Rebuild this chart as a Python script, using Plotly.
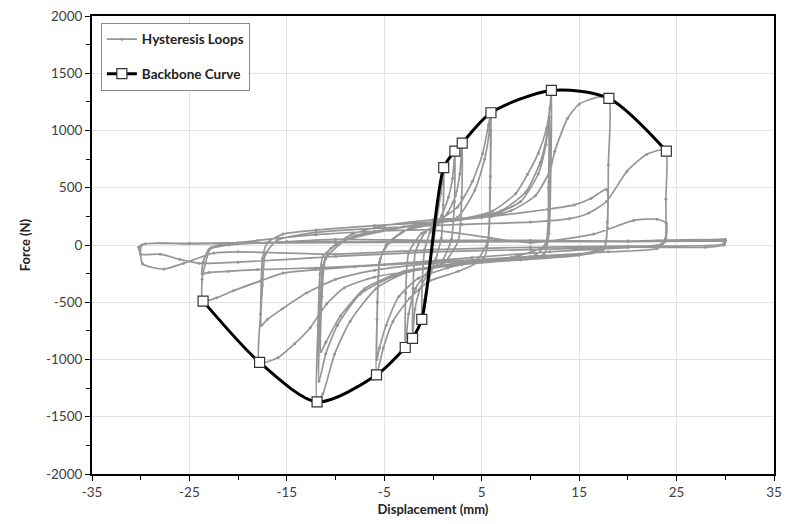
import plotly.graph_objects as go

# ---------------- Backbone curve ----------------
backbone_x = [-23.6, -17.8, -11.9, -5.8, -2.85, -2.1, -1.15, 1.1, 2.25, 3.0, 5.95, 12.15, 18.05, 23.95]
backbone_f = [-490, -1025, -1370, -1135, -895, -815, -650, 675, 820, 890, 1155, 1350, 1280, 820]

# ---------------- Hysteresis loops (cycle by cycle) ----------------
c1_x = [0, 0.4, 0.8, 1.1, 1.05, 0.85, 0.3, -0.4, -0.9, -1.15, -1.1, -0.85, -0.3, 0.2]
c1_f = [0, 230, 450, 675, 350, 60, -120, -300, -480, -650, -320, -40, 110, 160]

c2_x = [0.9, 1.6, 2.0, 2.25, 2.2, 1.9, 1.0, -0.3, -1.3, -1.85, -2.1, -2.05, -1.8, -0.8, 0.5]
c2_f = [260, 420, 580, 820, 380, 50, -130, -220, -380, -560, -815, -380, -60, 110, 190]

c3_x = [1.5, 2.3, 2.75, 3.0, 2.95, 2.6, 1.2, -0.5, -1.8, -2.5, -2.85, -2.8, -2.5, -1.2, 0.5]
c3_f = [280, 430, 620, 890, 420, 40, -150, -230, -380, -600, -895, -420, -70, 100, 180]

c4_x = [0.6, 2.5, 4.05, 5.1, 5.7, 5.95, 5.9, 5.7, 5.2, 2.6, -0.4, -2.4, -4.1, -5.1, -5.8, -5.75, -5.5, -4.8, -3.05, 0.0]
c4_f = [210, 330, 556, 800, 1050, 1155, 600, 50, -120, -230, -317, -465, -665, -900, -1135, -650, -150, 0, 120, 180]

c5_x = [2.5, 4.3, 5.3, 5.8, 5.9, 5.85, 5.6, 4.5, 1.5, -1.5, -3.5, -4.8, -5.5, -5.75, -5.7, -5.4, -4.5, -2.5, 0.5]
c5_f = [240, 480, 750, 1000, 1100, 500, 30, -130, -200, -290, -450, -700, -900, -1000, -500, -120, 20, 140, 200]

c6_x = [3.0, 6.07, 8.5, 9.7, 10.8, 11.65, 12.0, 12.15, 12.1, 11.9, 11.4, 9.5, 4.35, -2.45, -5.8, -8.5, -10.1, -11.3, -11.9,
        -11.8, -11.6, -11.3, -10.0, -8.3, -5.0, 0.0]
c6_f = [230, 295, 450, 617, 800, 1017, 1200, 1350, 700, 100, -80, -120, -140, -230, -378, -665, -953, -1300, -1370,
        -700, -250, -100, 0, 95, 170, 220]

c7_x = [4.0, 7.0, 9.5, 11.0, 11.7, 11.95, 11.9, 11.6, 10.5, 5.0, 0.0, -4.0, -7.5, -9.8, -11.0, -11.7, -11.6, -11.3,
        -10.5, -8.0, -3.0, 2.0]
c7_f = [240, 300, 460, 720, 960, 1120, 550, 20, -90, -150, -190, -270, -430, -700, -950, -1190, -600, -180,
        -30, 80, 160, 210]

c8_x = [6.0, 9.0, 10.8, 11.6, 11.9, 11.85, 11.5, 8.0, 2.0, -3.0, -7.0, -9.5, -11.0, -11.5, -11.4, -11.0, -9.0, -4.0]
c8_f = [260, 380, 620, 880, 1080, 500, 0, -110, -170, -230, -380, -620, -850, -930, -450, -120, 40, 140]

c9_x = [0.0, 5.0, 8.0, 10.5, 12.0, 12.5, 13.8, 15.0, 17.2, 18.05, 18.0, 17.9, 17.5, 15.0, 9.0, 3.0, -6.0, -9.1,
        -10.9, -12.6, -14.2, -15.9, -17.8, -17.7, -17.5, -17.0, -15.4, -12.0, -6.0]
c9_f = [200, 240, 300, 430, 650, 818, 1105, 1230, 1296, 1280, 700, 150, -40, -90, -130, -170, -280, -374,
        -513, -722, -862, -983, -1028, -600, -115, 20, 95, 130, 170]

c10_x = [0.0, 6.0, 11.8, 14.5, 16.2, 17.8, 17.9, 17.6, 15.0, 8.0, 0.0, -6.0, -10.0, -13.0, -15.5, -17.0, -17.6,
         -17.5, -17.2, -16.0, -12.0, -5.0]
c10_f = [200, 250, 312, 350, 406, 485, 200, -20, -80, -120, -160, -220, -300, -420, -560, -650, -700,
         -350, -80, 40, 110, 150]

c11_x = [3.0, 10.0, 14.0, 16.0, 17.8, 19.9, 21.9, 23.6, 23.95, 23.9, 23.8, 23.0, 18.0, 10.0, 0.0, -8.0, -12.0,
         -15.4, -17.75, -20.5, -22.2, -23.6, -23.7, -23.6, -22.8, -21.5, -18.0, -12.0]
c11_f = [180, 200, 230, 280, 380, 643, 791, 834, 820, 400, 30, -30, -60, -100, -150, -190, -215,
         -245, -315, -400, -461, -490, -300, -245, -25, 5, 40, 90]

c12_x = [-6.0, 0.0, 6.0, 10.0, 16.5, 20.6, 23.0, 23.95, 23.9, 23.5, 20.0, 12.0, 4.0, -5.0, -12.0, -18.0, -21.0,
         -23.0, -23.7, -23.6, -23.0, -21.0, -15.0]
c12_f = [120, 130, 60, 20, 95, 215, 225, 190, 60, 10, -20, -60, -110, -170, -200, -215, -230,
         -240, -250, -150, -40, 0, 30]

c13_x = [-10.0, 0.0, 10.0, 20.0, 28.0, 30.0, 29.9, 28.0, 20.0, 10.0, 0.0, -10.0, -20.0, -24.0, -26.0, -28.0, -30.0,
         -30.2, -29.5, -25.0, -20.0, -10.0, 0.0, 10.0, 20.0, 30.0, 29.8, 20.0, 10.0, 0.0, -10.0, -20.0, -22.5,
         -25.6, -27.6, -29.8, -29.9, -25.0, -20.0, -10.0, 0.0, 10.0, 20.0, 30.0]
c13_f = [50, 40, 40, 35, 40, 50, 0, -20, -20, -40, -60, -100, -150, -160, -125, -80, -80,
         -20, 10, 15, 20, 30, 30, 35, 35, 40, 10, -10, -20, -40, -80, -60, -70,
         -160, -210, -165, 0, 10, 15, 20, 25, 30, 30, 35]

cycles_x = [c1_x, c2_x, c3_x, c4_x, c5_x, c6_x, c7_x, c8_x, c9_x, c10_x, c11_x, c12_x, c13_x]
cycles_f = [c1_f, c2_f, c3_f, c4_f, c5_f, c6_f, c7_f, c8_f, c9_f, c10_f, c11_f, c12_f, c13_f]

hyst_x, hyst_f = [], []
for cx, cf in zip(cycles_x, cycles_f):
    hyst_x += cx
    hyst_f += cf

x_ticks = [-35, -25, -15, -5, 5, 15, 25, 35]
y_ticks = [-2000, -1500, -1000, -500, 0, 500, 1000, 1500, 2000]

GRAY = "rgb(150,150,150)"
FONT = "Lato"

fig = go.Figure()
fig.add_trace(go.Scatter(
    x=hyst_x, y=hyst_f, mode="lines+markers", name="Hysteresis Loops",
    line=dict(color=GRAY, width=1.7, shape="spline", smoothing=0.6),
    marker=dict(color=GRAY, size=3), legendgroup="a",
))
fig.add_trace(go.Scatter(
    x=backbone_x, y=backbone_f, mode="lines+markers", name="Backbone Curve",
    line=dict(color="black", width=3, shape="spline", smoothing=0.8),
    marker=dict(symbol="square", size=10, color="white", line=dict(color="#333", width=1.2)),
    legendgroup="b",
))

axis_common = dict(
    showline=True, linecolor="black", linewidth=2, mirror=True,
    showgrid=True, gridcolor="#e3e3e3", gridwidth=1, zeroline=False,
    ticks="outside", ticklen=5, tickcolor="black", tickwidth=1,
    tickfont=dict(family=FONT, size=13.5, color="#404040"),
)

fig.update_xaxes(
    range=[-35, 35], tickvals=x_ticks, ticktext=[str(v) for v in x_ticks],
    minor=dict(dtick=5, tick0=-35, ticks="outside", ticklen=4, tickcolor="black", showgrid=False),
    title=dict(text="<b>Displacement (mm)</b>", font=dict(family=FONT, size=13, color="#222"), standoff=6),
    **axis_common,
)
fig.update_yaxes(
    range=[-2000, 2000], tickvals=y_ticks, ticktext=[str(v) for v in y_ticks],
    minor=dict(dtick=250, tick0=0, ticks="outside", ticklen=4, tickcolor="black", showgrid=False),
    title=dict(text="<b>Force (N)</b>", font=dict(family=FONT, size=13, color="#222"), standoff=12),
    **axis_common,
)

fig.update_layout(
    width=790, height=524,
    margin=dict(l=92, r=8, t=14, b=50),
    paper_bgcolor="white", plot_bgcolor="white",
    showlegend=True,
    legend=dict(
        x=0.013, y=0.985, xanchor="left", yanchor="top",
        bgcolor="white", bordercolor="#888", borderwidth=1,
        font=dict(family=FONT, size=13.5, color="#222", weight="bold"),
        tracegroupgap=14, itemwidth=30,
    ),
)

fig.write_html("out.html")
